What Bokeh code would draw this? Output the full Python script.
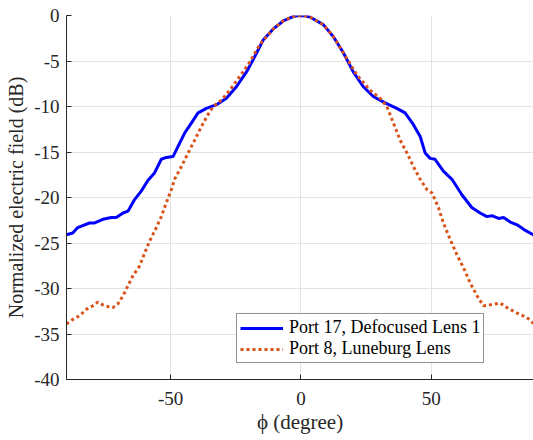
from bokeh.plotting import figure
from bokeh.models import FixedTicker, Range1d, Legend, LegendItem
from bokeh.embed import file_html
from bokeh.resources import INLINE

# Port 17, Defocused Lens 1
phi_blue = [-90, -87.6, -85.7, -81.2, -79.2, -76, -72.8, -70.9, -68.3, -66.4, -63.8, -61.3,
            -58.7, -56.2, -53.6, -51.7, -49.1, -47.2, -44.6, -42, -39.5, -36.3, -32.4, -28.6,
            -24.7, -20.9, -17.7, -14.5, -10.7, -6.8, -3, -1.5, 0, 1.5, 3.5, 8.6, 12.4, 16.3, 20.1, 23.9,
            27.8, 32.3, 36.8, 40, 43.2, 45.8, 47.7, 49.6, 51.5, 54.7, 58, 61.8, 65.6, 68.8,
            71.4, 73.3, 75.9, 77.8, 80.4, 83, 85.5, 89.2, 90]
e_blue = [-24.1, -23.9, -23.3, -22.8, -22.8, -22.4, -22.2, -22.2, -21.7, -21.5, -20.2, -19.3,
          -18.1, -17.3, -15.8, -15.6, -15.5, -14.4, -12.9, -11.8, -10.7, -10.2, -9.8, -9.1,
          -7.8, -6.2, -4.5, -2.7, -1.5, -0.6, -0.12, -0.03, 0, -0.03, -0.17, -1.0, -2.3, -4.1, -6.2, -7.8,
          -8.9, -9.6, -10.2, -10.7, -12.0, -13.3, -15.1, -15.7, -15.8, -17.1, -18.0, -19.7, -21.1, -21.7,
          -22.1, -22.0, -22.3, -22.2, -22.7, -23.0, -23.5, -24.1, -24.2]

# Port 8, Luneburg Lens
phi_orange = [-90, -87.6, -85, -82.4, -79.9, -78, -75.4, -72.2, -70.3, -68.3, -66.4, -64.5,
              -61.9, -60, -58.1, -55.5, -53.6, -51.7, -49.7, -48.5, -45.9, -43.3, -40.8, -38.2,
              -35.7, -33.7, -30.5, -27.3, -23.5, -19.6, -15.8, -10.7, -6.8, -3, -1.5, 0, 1.5, 3.5, 8.6,
              12.4, 16.3, 21.4, 26.5, 30.4, 33, 35.5, 38.1, 40.7, 43.2, 45.8, 48.3, 50.3, 52.8,
              54.7, 57.3, 59.9, 62.4, 65, 67.6, 70.1, 72.7, 76.5, 79.1, 83, 86.8, 89.2, 90]
e_orange = [-33.9, -33.4, -33.0, -32.3, -31.9, -31.5, -31.9, -32.1, -31.7, -30.8, -29.7, -28.6,
            -27.5, -26.1, -24.8, -23.3, -22.1, -20.6, -19.1, -18.0, -16.6, -15.1, -13.7, -12.2,
            -10.9, -10.0, -9.3, -8.2, -6.7, -5.1, -3.2, -1.5, -0.6, -0.12, -0.03, 0, -0.03, -0.17, -1.0,
            -2.3, -4.1, -6.5, -8.2, -9.1, -10.0, -11.8, -13.7, -15.1, -16.6, -18.0, -19.1, -19.5, -21.1,
            -22.8, -24.6, -26.3, -27.7, -29.4, -30.8, -31.9, -31.8, -31.6, -32.1, -32.7, -33.2, -33.8, -33.9]

x_ticks = [-50, 0, 50]
y_ticks = [0, -5, -10, -15, -20, -25, -30, -35, -40]
series_labels = ["Port 17, Defocused Lens 1", "Port 8, Luneburg Lens"]

FONT = "Liberation Serif"
AX = "#262626"

p = figure(width=533, height=440, output_backend="svg", toolbar_location=None,
           x_range=Range1d(-90, 89.3), y_range=Range1d(-40, 0),
           min_border_left=66, min_border_right=0, min_border_top=15, min_border_bottom=61)
p.outline_line_color = None
p.background_fill_color = "white"
p.border_fill_color = "white"

for ax in (p.xaxis[0], p.yaxis[0]):
    ax.major_tick_in = 5
    ax.major_tick_out = 0
    ax.minor_tick_in = 0
    ax.minor_tick_out = 0
    ax.axis_line_color = AX
    ax.major_tick_line_color = AX
    ax.major_label_text_color = AX
    ax.major_label_text_font = FONT
    ax.major_label_text_font_size = "19px"
    ax.axis_label_text_font = FONT
    ax.axis_label_text_font_size = "20px"
    ax.axis_label_text_font_style = "normal"
    ax.axis_label_text_color = AX

p.xaxis[0].ticker = FixedTicker(ticks=x_ticks)
p.yaxis[0].ticker = FixedTicker(ticks=y_ticks)
p.xaxis[0].major_label_overrides = {t: str(t) for t in x_ticks}
p.yaxis[0].major_label_overrides = {t: str(t) for t in y_ticks}
p.xaxis[0].major_label_standoff = 12
p.yaxis[0].major_label_standoff = 7
p.xaxis[0].axis_label = "ϕ (degree)"
p.xaxis[0].axis_label_text_font_size = "21px"
p.xaxis[0].axis_label_standoff = 2
p.yaxis[0].axis_label = "Normalized electric field (dB)"
p.yaxis[0].axis_label_standoff = 4

p.xgrid.ticker = FixedTicker(ticks=x_ticks)
p.ygrid.ticker = FixedTicker(ticks=y_ticks)
for g in (p.xgrid[0], p.ygrid[0]):
    g.grid_line_color = "#e3e3e3"
    g.grid_line_width = 1

r1 = p.line(phi_blue, e_blue, line_color="#0000FF", line_width=3)
r2 = p.line(phi_orange, e_orange, line_color="#D95319", line_width=3, line_dash="3 3")

legend = Legend(items=[LegendItem(label=series_labels[0], renderers=[r1]),
                       LegendItem(label=series_labels[1], renderers=[r2])],
                location=(170, 16))
legend.label_text_font = FONT
legend.label_text_font_size = "18px"
legend.label_text_color = "black"
legend.glyph_width = 43
legend.glyph_height = 20
legend.label_height = 20
legend.spacing = 0
legend.padding = 3
legend.margin = 0
legend.label_standoff = 6
legend.border_line_color = AX
legend.border_line_width = 1
legend.background_fill_color = "white"
legend.background_fill_alpha = 1
p.add_layout(legend, "center")

open("out.html", "w").write(file_html(p, INLINE))
